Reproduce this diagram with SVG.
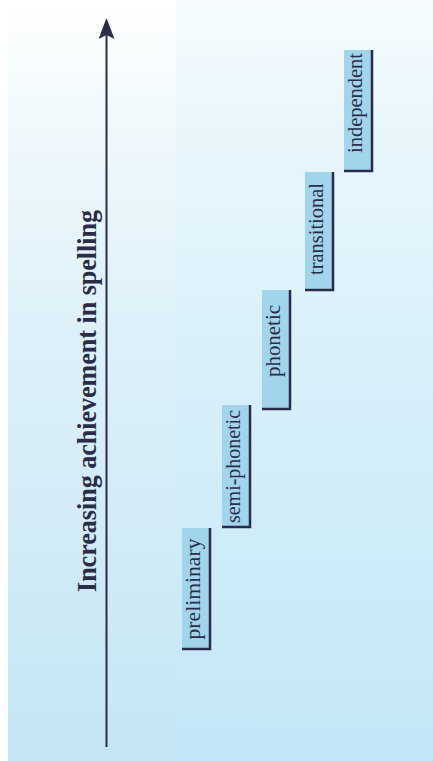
<svg xmlns="http://www.w3.org/2000/svg" width="433" height="761" viewBox="0 0 433 761">
  <defs>
    <linearGradient id="bgL" x1="0" y1="0" x2="0" y2="1">
      <stop offset="0" stop-color="#ffffff"/>
      <stop offset="0.15" stop-color="#f1f9fc"/>
      <stop offset="0.45" stop-color="#dcf0f9"/>
      <stop offset="1" stop-color="#c5e5f4"/>
    </linearGradient>
    <linearGradient id="bgR" x1="0" y1="0" x2="0" y2="1">
      <stop offset="0" stop-color="#f6fcfe"/>
      <stop offset="0.15" stop-color="#eaf7fc"/>
      <stop offset="0.45" stop-color="#d9f0fa"/>
      <stop offset="1" stop-color="#c3e7f7"/>
    </linearGradient>
    <marker id="arrow" viewBox="0 0 22 16" refX="19" refY="8" markerWidth="22" markerHeight="16" markerUnits="userSpaceOnUse" orient="auto">
      <path d="M22 8 L1 0 L5 8 L1 16 Z" fill="#2a2d45"/>
    </marker>
    <style>
      .box { fill: #a2d5ec; }
      .edge { fill: none; stroke: #2a2b48; stroke-width: 2.5; }
      .lbl { font-family: "Liberation Serif", "Times New Roman", serif; font-size: 21px; fill: #2a2d4a; text-anchor: middle; }
      .title { font-family: "Liberation Serif", "Times New Roman", serif; font-size: 28px; font-weight: bold; fill: #2a2d45; }
    </style>
  </defs>

  <rect x="0" y="0" width="433" height="761" fill="#ffffff"/>
  <rect x="8" y="0" width="168" height="761" fill="url(#bgL)"/>
  <rect x="176" y="0" width="257" height="761" fill="url(#bgR)"/>

  <g id="connectors">
    <line x1="106.5" y1="747" x2="106.5" y2="21" stroke="#2a2d45" stroke-width="2" marker-end="url(#arrow)"/>
  </g>

  <g id="axis-label">
    <text class="title" transform="translate(96,592) rotate(-90)" textLength="382" lengthAdjust="spacingAndGlyphs">Increasing achievement in spelling</text>
  </g>

  <g id="preliminary">
    <rect class="box" x="182" y="528" width="28" height="122"/>
    <polyline class="edge" points="182,649 210,649 210,528"/>
    <text class="lbl" transform="translate(200,589) rotate(-90)" textLength="101" lengthAdjust="spacingAndGlyphs">preliminary</text>
  </g>

  <g id="semi-phonetic">
    <rect class="box" x="222" y="405" width="28" height="123"/>
    <polyline class="edge" points="222,527 250,527 250,405"/>
    <text class="lbl" transform="translate(240,466.5) rotate(-90)" textLength="113" lengthAdjust="spacingAndGlyphs">semi-phonetic</text>
  </g>

  <g id="phonetic">
    <rect class="box" x="262" y="290" width="28" height="120"/>
    <polyline class="edge" points="262,409 290,409 290,290"/>
    <text class="lbl" transform="translate(280,341) rotate(-90)" textLength="72" lengthAdjust="spacingAndGlyphs">phonetic</text>
  </g>

  <g id="transitional">
    <rect class="box" x="305" y="172" width="28" height="119"/>
    <polyline class="edge" points="305,290 333,290 333,172"/>
    <text class="lbl" transform="translate(323,229) rotate(-90)" textLength="92" lengthAdjust="spacingAndGlyphs">transitional</text>
  </g>

  <g id="independent">
    <rect class="box" x="344" y="50" width="28" height="122"/>
    <polyline class="edge" points="344,171 372,171 372,50"/>
    <text class="lbl" transform="translate(362,103) rotate(-90)" textLength="100" lengthAdjust="spacingAndGlyphs">independent</text>
  </g>
</svg>
